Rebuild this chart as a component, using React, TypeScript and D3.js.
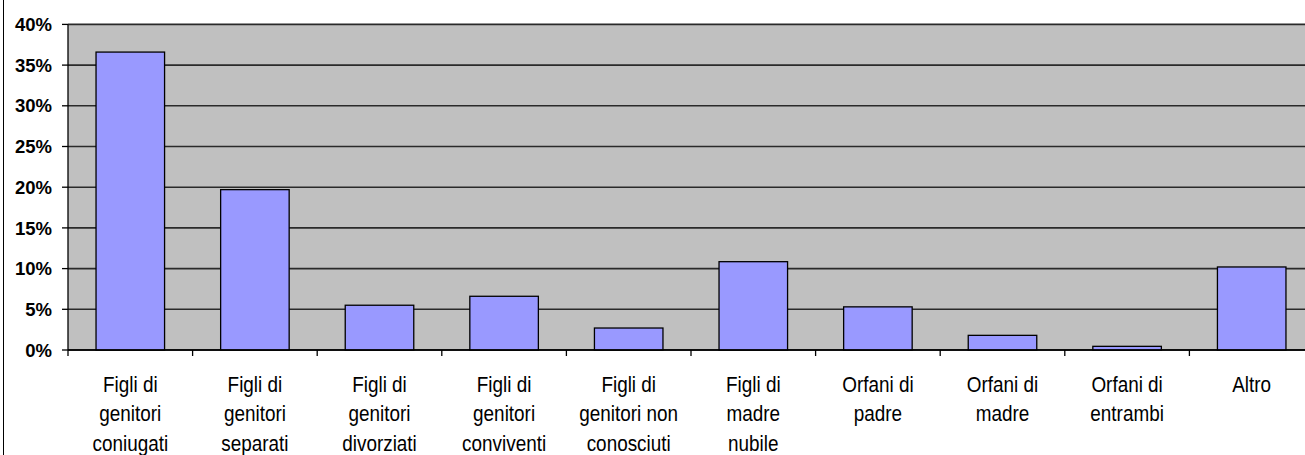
import React from "react";
import * as d3 from "d3";

const categories: string[][] = [
  ["Figli di", "genitori", "coniugati"],
  ["Figli di", "genitori", "separati"],
  ["Figli di", "genitori", "divorziati"],
  ["Figli di", "genitori", "conviventi"],
  ["Figli di", "genitori non", "conosciuti"],
  ["Figli di", "madre", "nubile"],
  ["Orfani di", "padre"],
  ["Orfani di", "madre"],
  ["Orfani di", "entrambi"],
  ["Altro"],
];
const values: number[] = [36.6, 19.7, 5.5, 6.6, 2.7, 10.85, 5.3, 1.8, 0.45, 10.2];
const yTicks: number[] = [0, 5, 10, 15, 20, 25, 30, 35, 40];

const W = 1305;
const H = 455;
const left = 68;
const right = 1314;
const top = 24.4;
const bottom = 350;

export default function App() {
  const ids = categories.map((_, i) => String(i));
  const x = d3.scaleBand<string>().domain(ids).range([left, right]).padding(0);
  const y = d3.scaleLinear().domain([0, 40]).range([bottom, top]);
  const bw = x.bandwidth();
  const barW = bw * 0.55;
  const font = "'Liberation Sans', Arial, Helvetica, sans-serif";

  return (
    <svg
      width={W}
      height={H}
      style={{ position: "absolute", left: 0, top: 0, display: "block", background: "#fff" }}
    >
      <line x1={3.5} x2={3.5} y1={0} y2={H} stroke="#000" strokeWidth={1} />
      <rect x={left} y={top} width={right - left} height={bottom - top} fill="#C0C0C0" />
      {yTicks.map((t) => (
        <line
          key={"g" + t}
          x1={left}
          x2={right}
          y1={y(t)}
          y2={y(t)}
          stroke={t === 0 ? "#000" : "#2a2a2a"}
          strokeWidth={1.6}
        />
      ))}
      {values.map((v, i) => (
        <rect
          key={"b" + i}
          x={(x(String(i)) as number) + (bw - barW) / 2}
          y={y(v)}
          width={barW}
          height={bottom - y(v)}
          fill="#9999FF"
          stroke="#000"
          strokeWidth={1.3}
        />
      ))}
      <line x1={left} x2={left} y1={top} y2={bottom} stroke="#000" strokeWidth={1.3} />
      <line x1={left} x2={right} y1={bottom} y2={bottom} stroke="#000" strokeWidth={1.3} />
      {yTicks.map((t) => (
        <g key={"yt" + t}>
          <line x1={left - 6} x2={left} y1={y(t)} y2={y(t)} stroke="#000" strokeWidth={1.3} />
          <text
            x={52}
            y={y(t)}
            dy="0.36em"
            textAnchor="end"
            fontFamily={font}
            fontWeight="bold"
            fontSize={18.5}
            fill="#000"
          >
            {t + "%"}
          </text>
        </g>
      ))}
      {ids.concat([String(ids.length)]).map((id, i) => {
        const xx = i < ids.length ? (x(id) as number) : right;
        return <line key={"xt" + i} x1={xx} x2={xx} y1={bottom} y2={bottom + 6} stroke="#000" strokeWidth={1.3} />;
      })}
      {categories.map((lines, i) => {
        const cx = (x(String(i)) as number) + bw / 2;
        return (
          <g key={"xl" + i} transform={`translate(${cx},0) scale(0.86,1)`}>
            {lines.map((ln, j) => (
              <text
                key={j}
                x={0}
                y={392 + j * 29.5}
                textAnchor="middle"
                fontFamily={font}
                fontSize={22}
                fill="#000"
              >
                {ln}
              </text>
            ))}
          </g>
        );
      })}
    </svg>
  );
}
